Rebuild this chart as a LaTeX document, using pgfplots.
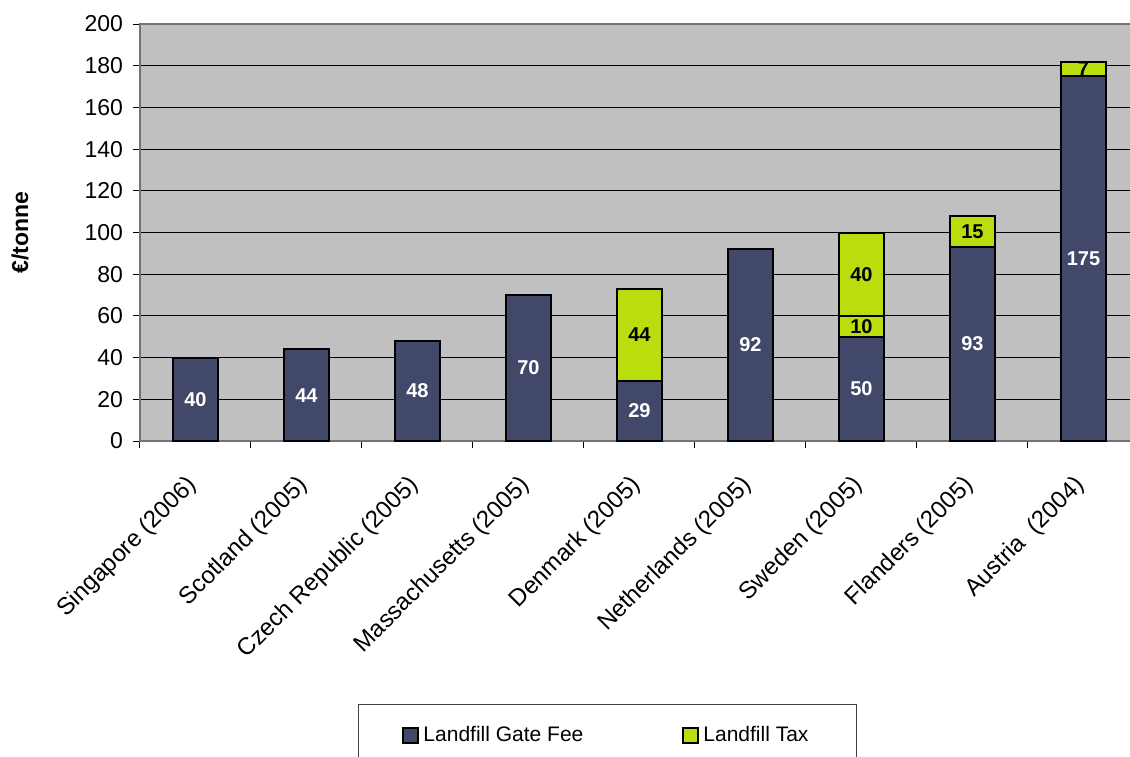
\documentclass[border=0pt]{standalone}
\usepackage{pgfplots}
\pgfplotsset{compat=1.18}
\usepackage{pgfplotstable}
\usepackage{fontspec}
\setmainfont{Liberation Sans}
\definecolor{gatefee}{RGB}{65,72,106}
\definecolor{taxgreen}{RGB}{186,221,14}
\definecolor{plotbg}{RGB}{192,192,192}

\pgfplotstableread{
x gate tax tax2
0 40 0 0
1 44 0 0
2 48 0 0
3 70 0 0
4 29 44 0
5 92 0 0
6 50 10 40
7 93 15 0
8 175 7 0
}\datatable

\pgfplotsset{
  seglabel/.style={
    point meta=explicit,
    nodes near coords={\pgfmathfloatifflags{\pgfplotspointmeta}{0}{}{\pgfmathprintnumber{\pgfplotspointmeta}}},
  }
}

\begin{document}
\begin{tikzpicture}
\useasboundingbox (-70pt,-157.5pt) rectangle (495pt,220.5pt);
\begin{axis}[
  at={(0,0)}, anchor=south west,
  scale only axis, width=499.5pt, height=208.5pt,
  ybar stacked, bar width=22.5pt,
  xmin=-0.5, xmax=8.5, ymin=0, ymax=200,
  ytick={0,20,...,200},
  xtick={-0.5,0.5,...,8.5}, xticklabels={},
  extra x ticks={0,...,8},
  extra x tick labels={Singapore (2006), Scotland (2005), Czech Republic (2005), Massachusetts (2005), Denmark (2005), Netherlands (2005), Sweden (2005), Flanders (2005), Austria\ \ (2004)},
  extra x tick style={major tick length=0pt, grid=none,
     xticklabel style={rotate=45, anchor=north east, xshift=-11.8pt, yshift=-4.45pt, font=\fontsize{12}{14}\selectfont}},
  tick align=outside, tick pos=left, major tick length=3.5pt,
  tick style={black, line width=0.5pt},
  ymajorgrids, grid style={black, line width=0.5pt},
  axis line style={black!55, line width=0.75pt},
  axis background/.style={fill=plotbg},
  /pgf/number format/assume math mode=true,
  tick label style={font=\fontsize{11.5}{13}\selectfont},
  yticklabel style={xshift=-1.5pt},
  ylabel={\bfseries €/tonne},
  ylabel style={font=\fontsize{11.5}{13}\selectfont, at={(axis description cs:-0.12,0.5)}, anchor=center},
  legend columns=2,
  legend style={at={(axis description cs:0.2182,-0.6307)}, anchor=north west,
     draw=black!75, line width=0.5pt, inner xsep=22pt, inner ysep=9pt,
     font=\fontsize{10.5}{12}\selectfont,
     /tikz/every even column/.append style={column sep=47.5pt}},
  legend cell align=left,
  legend image code/.code={\draw[#1, line width=1pt] (0pt,-3.75pt) rectangle (7.5pt,3.75pt);},
  every node near coord/.append style={font=\fontsize{10}{12}\bfseries\selectfont, anchor=center},
]
\addplot[fill=gatefee, draw=black, line width=1pt, seglabel,
  every node near coord/.append style={text=white}]
  table[x=x, y=gate, meta=gate] {\datatable};
\addlegendentry{Landfill Gate Fee}
\addplot[fill=taxgreen, draw=black, line width=1pt, seglabel,
  every node near coord/.append style={text=black}]
  table[x=x, y=tax, meta=tax] {\datatable};
\addlegendentry{Landfill Tax}
\addplot[fill=taxgreen, draw=black, line width=1pt, seglabel,
  every node near coord/.append style={text=black}]
  table[x=x, y=tax2, meta=tax2] {\datatable};
\end{axis}
\end{tikzpicture}
\end{document}
